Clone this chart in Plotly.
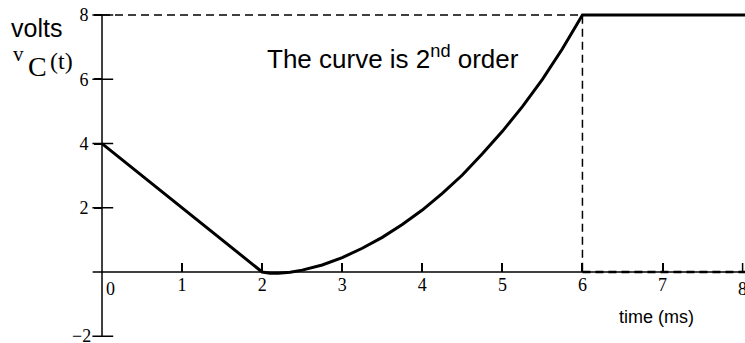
import plotly.graph_objects as go

# capacitor voltage v_C(t)
t_ms = [0, 2, 2.1, 2.2, 2.35, 2.5, 2.75, 3, 3.25, 3.5, 3.75, 4, 4.25, 4.5,
        4.75, 5, 5.25, 5.5, 5.75, 6, 8.03]
v_c = [4, 0, -0.04, -0.04, -0.01, 0.06, 0.22, 0.45, 0.74, 1.08, 1.48, 1.93,
       2.45, 3.02, 3.68, 4.38, 5.15, 6.0, 6.95, 8, 8]

x_ticks = [1, 2, 3, 4, 5, 6, 7]
y_ticks = [2, 4, 6, 8]
y_all_ticks = [-2, 2, 4, 6, 8]

W, H = 745, 343
serif = "Liberation Serif"
sans = "Liberation Sans"

fig = go.Figure()

# guide lines
fig.add_trace(go.Scatter(x=[0, 6, 6], y=[8, 8, 0], mode="lines",
                         line=dict(color="black", width=1.5, dash="8px,5px"),
                         hoverinfo="skip"))
fig.add_trace(go.Scatter(x=[6, 8.03], y=[0, 0], mode="lines",
                         line=dict(color="black", width=2.5, dash="8px,5px"),
                         hoverinfo="skip"))

# the curve
fig.add_trace(go.Scatter(x=t_ms, y=v_c, mode="lines",
                         line=dict(color="black", width=3), hoverinfo="skip"))

# crossing ticks on the vertical axis, upward tick at t=8
fig.add_trace(go.Scatter(x=[0] * len(y_all_ticks), y=y_all_ticks, mode="markers",
                         marker=dict(symbol="line-ew", size=16,
                                     line=dict(color="black", width=1.5)),
                         hoverinfo="skip"))

# axis lines
fig.add_shape(type="line", x0=-0.12, x1=8.03, y0=0, y1=0,
              line=dict(color="black", width=1.5))
fig.add_shape(type="line", x0=0, x1=0, y0=-2, y1=8,
              line=dict(color="black", width=1.5))
fig.add_shape(type="line", x0=8, x1=8, y0=0, y1=0.28,
              line=dict(color="black", width=1.5))

fig.update_layout(
    width=W, height=H,
    margin=dict(l=0, r=0, t=0, b=0),
    plot_bgcolor="white", paper_bgcolor="white",
    showlegend=False,
    xaxis=dict(range=[-0.12, 8.03], domain=[92.4 / W, 1], anchor="free",
               position=2.21 / 10.68, showgrid=False, zeroline=False,
               showline=False, tickvals=x_ticks, ticks="inside", ticklen=9,
               tickwidth=1.5, tickcolor="black",
               tickfont=dict(family=serif, size=18, color="black")),
    yaxis=dict(range=[-2.21, 8.47], domain=[0, 1], showgrid=False,
               zeroline=False, showline=False, tickvals=y_ticks,
               ticks="outside", ticklen=8,
               tickwidth=1.5, tickcolor="black", anchor="free",
               position=102 / W, ticklabelstandoff=2,
               tickfont=dict(family=serif, size=18, color="black")),
)

# labels that sit at the edges of the picture
fig.add_annotation(x=0.11, y=0, xref="x", yref="y", text="0", showarrow=False,
                   xanchor="center", yanchor="top", yshift=-5,
                   font=dict(family=serif, size=18, color="black"))
fig.add_annotation(x=8, y=0, xref="x", yref="y", text="8", showarrow=False,
                   xanchor="center", yanchor="top", yshift=-5,
                   font=dict(family=serif, size=18, color="black"))
fig.add_annotation(x=0, y=-2, xref="x", yref="y", text="\u22122",
                   showarrow=False, xanchor="right", yanchor="middle",
                   xshift=-9, font=dict(family=serif, size=18, color="black"))

fig.add_annotation(x=265 / W, y=1 - 57 / H, xref="paper", yref="paper",
                   text="The curve is 2<sup>nd</sup> order", showarrow=False,
                   xanchor="left", yanchor="middle",
                   font=dict(family=sans, size=26, color="black"))
fig.add_annotation(x=656 / W, y=1 - 317 / H, xref="paper", yref="paper",
                   text="time (ms)", showarrow=False,
                   xanchor="center", yanchor="middle",
                   font=dict(family=sans, size=18, color="black"))
fig.add_annotation(x=36 / W, y=1 - 28 / H, xref="paper", yref="paper",
                   text="volts", showarrow=False,
                   xanchor="center", yanchor="middle",
                   font=dict(family=sans, size=25, color="black"))
fig.add_annotation(x=18 / W, y=1 - 54 / H, xref="paper", yref="paper",
                   text="v", showarrow=False,
                   xanchor="center", yanchor="middle",
                   font=dict(family=serif, size=21, color="black"))
fig.add_annotation(x=37 / W, y=1 - 67 / H, xref="paper", yref="paper",
                   text="C", showarrow=False,
                   xanchor="center", yanchor="middle",
                   font=dict(family=serif, size=28, color="black"))
fig.add_annotation(x=61 / W, y=1 - 61 / H, xref="paper", yref="paper",
                   text="(t)", showarrow=False,
                   xanchor="center", yanchor="middle",
                   font=dict(family=serif, size=24, color="black"))

fig.write_html("out.html", config={"displayModeBar": False},
               post_script="document.body.style.margin='0';")
